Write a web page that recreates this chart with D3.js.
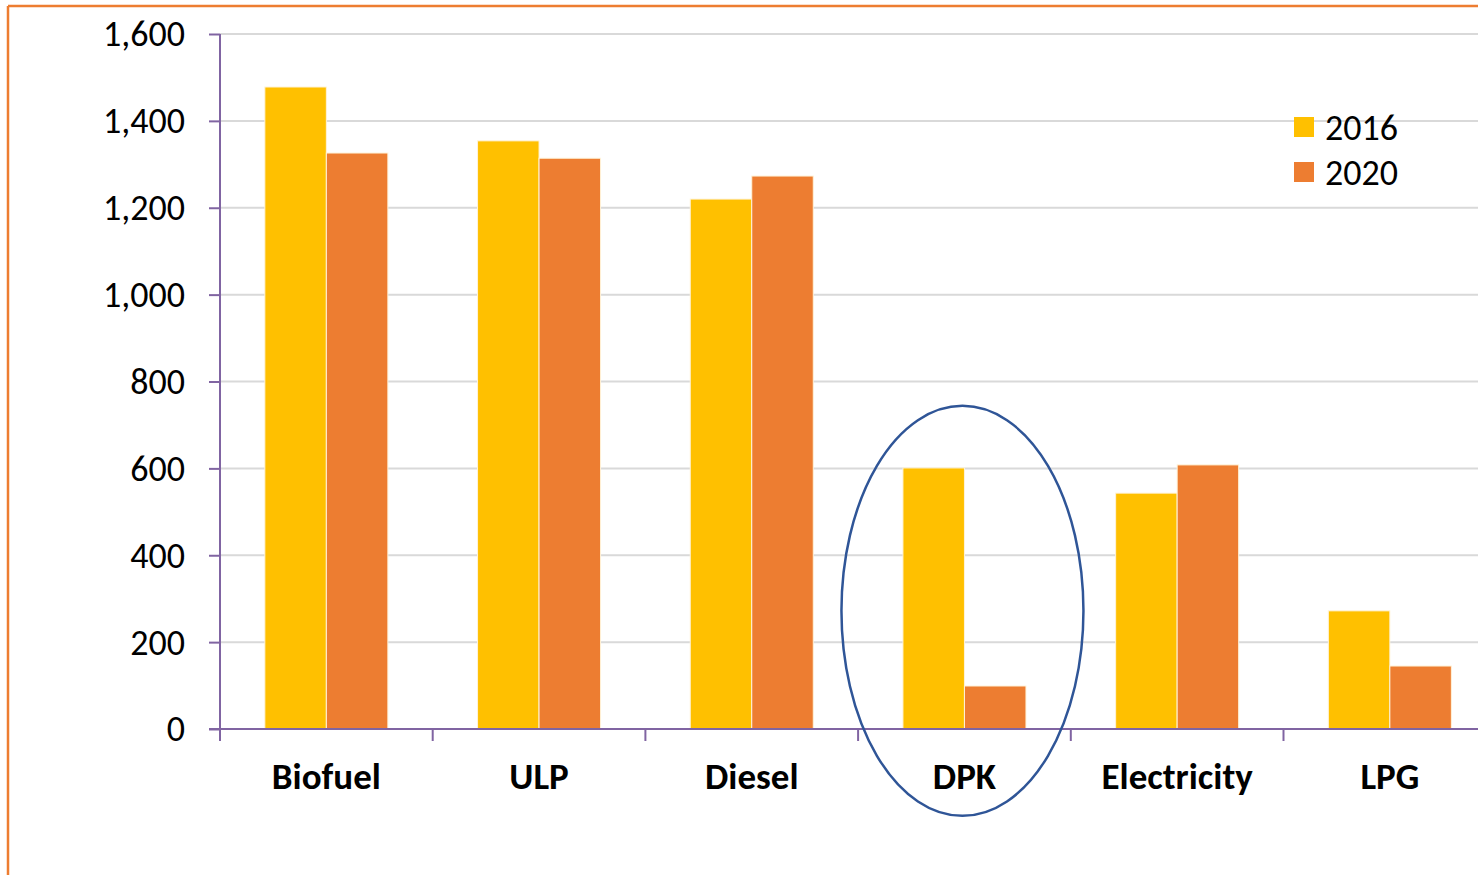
<!DOCTYPE html>
<html>
<head>
<meta charset="utf-8">
<script src="https://cdn.jsdelivr.net/npm/d3@7"></script>
<style>
  body { margin: 0; background: #fff; }
  svg { display: block; font-family: Carlito, Lato, "Open Sans", sans-serif; }
</style>
</head>
<body>
<svg id="svg" width="1478" height="875"></svg>
<script>
var categories = ["Biofuel", "ULP", "Diesel", "DPK", "Electricity", "LPG"];
var series = ["2016", "2020"];
var values2016 = [1478, 1354, 1220, 601, 543, 272];
var values2020 = [1326, 1314, 1273, 99, 608, 145];
var yTicks = [0, 200, 400, 600, 800, 1000, 1200, 1400, 1600];
var colors = ["#FFC000", "#ED7D31"];

var svg = d3.select("#svg"),
    width = +svg.attr("width"),
    height = +svg.attr("height");

var plotLeft = 220, plotTop = 34, plotBottom = 729;
var step = 212.7;

var x0 = d3.scaleBand().domain(categories).range([plotLeft, plotLeft + step * categories.length]);
var x1 = d3.scaleBand().domain(series).range([0, x0.bandwidth()]).paddingOuter(0.729);
var y = d3.scaleLinear().domain([0, 1600]).range([plotBottom, plotTop]);
var color = d3.scaleOrdinal().domain(series).range(colors);

var data = categories.map(function (c, i) {
    return { cat: c, vals: [{ s: "2016", v: values2016[i] }, { s: "2020", v: values2020[i] }] };
});

// outer frame (orange, left + top)
svg.append("line").attr("x1", 8).attr("x2", 8).attr("y1", 6).attr("y2", height)
    .attr("stroke", "#ED7D31").attr("stroke-width", 2.5);
svg.append("line").attr("x1", 8).attr("x2", width).attr("y1", 6).attr("y2", 6)
    .attr("stroke", "#ED7D31").attr("stroke-width", 2.5);

// gridlines
svg.append("g").selectAll("line")
    .data(yTicks.filter(function (d) { return d > 0; }))
    .enter().append("line")
    .attr("x1", plotLeft).attr("x2", width)
    .attr("y1", function (d) { return y(d); })
    .attr("y2", function (d) { return y(d); })
    .attr("stroke", "#d9d9d9").attr("stroke-width", 2);

// bars
var groups = svg.append("g").selectAll("g")
    .data(data)
    .enter().append("g")
    .attr("transform", function (d) { return "translate(" + x0(d.cat) + ",0)"; });

groups.selectAll("rect")
    .data(function (d) { return d.vals; })
    .enter().append("rect")
    .attr("x", function (d) { return x1(d.s); })
    .attr("width", x1.bandwidth())
    .attr("y", function (d) { return y(d.v); })
    .attr("height", function (d) { return plotBottom - y(d.v); })
    .attr("fill", function (d) { return color(d.s); })
    .attr("stroke", "#fff3d9").attr("stroke-width", 1);

// y axis
var yAxis = svg.append("g")
    .attr("transform", "translate(" + plotLeft + ",0)")
    .call(d3.axisLeft(y).tickValues(yTicks).tickFormat(d3.format(",")).tickSize(11).tickPadding(24));
yAxis.selectAll("line, path").attr("stroke", "#8064A2").attr("stroke-width", 2);
yAxis.select(".domain").attr("d", "M0," + plotTop + "V" + plotBottom);
yAxis.selectAll("text").attr("font-size", 36).attr("fill", "#000")
    .attr("font-family", "Carlito, Lato, sans-serif").attr("dy", "0.33em");

// x axis
var xAxis = svg.append("g")
    .attr("transform", "translate(0," + plotBottom + ")")
    .call(d3.axisBottom(x0).tickSize(0).tickPadding(34));
xAxis.select(".domain").attr("d", "M" + (plotLeft - 11) + ",0H" + width)
    .attr("stroke", "#8064A2").attr("stroke-width", 2);
xAxis.selectAll("text").attr("font-size", 37).attr("font-weight", "bold").attr("fill", "#000")
    .attr("font-family", "Carlito, Lato, sans-serif");

// x boundary ticks
svg.append("g").selectAll("line")
    .data(categories)
    .enter().append("line")
    .attr("x1", function (d) { return x0(d); })
    .attr("x2", function (d) { return x0(d); })
    .attr("y1", plotBottom).attr("y2", plotBottom + 12)
    .attr("stroke", "#8064A2").attr("stroke-width", 2);

// highlight ellipse around DPK
svg.append("ellipse")
    .attr("cx", x0("DPK") + x0.bandwidth() / 2 - 2)
    .attr("cy", y(272))
    .attr("rx", 121)
    .attr("ry", 205)
    .attr("fill", "none")
    .attr("stroke", "#2F5597").attr("stroke-width", 2.5);

// legend
var legend = svg.append("g").attr("transform", "translate(1294,117)");
var li = legend.selectAll("g")
    .data(series)
    .enter().append("g")
    .attr("transform", function (d, i) { return "translate(0," + (i * 45) + ")"; });
li.append("rect").attr("width", 20).attr("height", 20)
    .attr("fill", function (d) { return color(d); });
li.append("text").attr("x", 31).attr("y", 10).attr("dy", "0.36em")
    .attr("font-size", 36).attr("fill", "#000")
    .attr("font-family", "Carlito, Lato, sans-serif")
    .text(function (d) { return d; });
</script>
</body>
</html>
